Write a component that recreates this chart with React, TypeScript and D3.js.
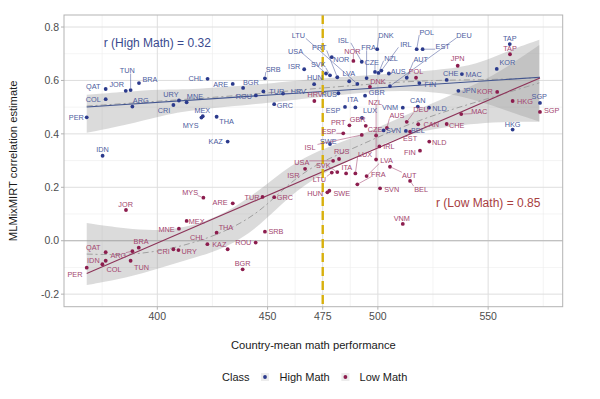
import React from "react";
import * as d3 from "d3";

// [country, country-mean math, correlation estimate]
const highMath: [string, number, number][] = [
  ["PER", 368.0, 0.462], ["QAT", 376.6, 0.568], ["COL", 376.6, 0.53], ["IDN", 375.2, 0.318],
  ["JOR", 385.7, 0.561], ["TUN", 387.9, 0.564], ["BRA", 391.7, 0.59], ["ARG", 388.7, 0.502],
  ["CRI", 407.3, 0.508], ["URY", 409.8, 0.525], ["MNE", 413.3, 0.518], ["CHL", 422.8, 0.606],
  ["ARE", 434.2, 0.587], ["BGR", 438.9, 0.572], ["ROU", 444.7, 0.544], ["MEX", 420.6, 0.466],
  ["MYS", 420.0, 0.461], ["THA", 426.9, 0.464], ["KAZ", 431.9, 0.371], ["SRB", 448.8, 0.608],
  ["GRC", 453.0, 0.511], ["TUR", 448.1, 0.559], ["HRV", 457.0, 0.551], ["RUS", 482.1, 0.552],
  ["HUN", 471.1, 0.586], ["ISR", 466.6, 0.642], ["USA", 476.5, 0.626], ["SVK", 478.3, 0.619],
  ["PRT", 481.6, 0.612], ["LVA", 487.0, 0.597], ["LTU", 490.7, 0.587], ["NOR", 479.1, 0.687],
  ["ISL", 492.7, 0.67], ["FRA", 494.9, 0.609], ["CZE", 498.7, 0.632], ["DNK", 499.7, 0.717],
  ["NZL", 500.3, 0.628], ["IRL", 501.6, 0.637], ["AUS", 505.0, 0.626], ["POL", 517.6, 0.717],
  ["EST", 520.3, 0.717], ["DEU", 505.5, 0.579], ["AUT", 513.1, 0.61], ["FIN", 518.8, 0.59],
  ["CHE", 531.2, 0.602], ["MAC", 538.1, 0.624], ["JPN", 536.5, 0.561], ["KOR", 553.9, 0.643],
  ["TAP", 559.8, 0.736], ["SGP", 573.5, 0.516], ["HKG", 561.1, 0.416], ["GBR", 494.2, 0.543],
  ["ITA", 489.8, 0.499], ["ESP", 485.1, 0.501], ["CAN", 518.1, 0.502], ["VNM", 511.3, 0.498],
  ["NLD", 523.2, 0.498], ["SVN", 502.6, 0.413], ["BEL", 512.7, 0.411], ["SWE", 478.3, 0.362],
  ["LUX", 492.8, 0.46],
];

const lowMath: [string, number, number][] = [
  ["PER", 368.0, -0.101], ["IDN", 375.1, -0.088], ["COL", 376.6, -0.075], ["QAT", 376.6, -0.043],
  ["ARG", 388.7, -0.039], ["BRA", 391.6, -0.026], ["TUN", 387.9, -0.075], ["JOR", 385.8, 0.115],
  ["CRI", 407.3, -0.032], ["URY", 409.6, -0.035], ["MNE", 409.8, 0.045], ["MEX", 413.3, 0.074],
  ["MYS", 420.9, 0.161], ["ARE", 434.2, 0.14], ["CHL", 422.7, -0.013], ["THA", 426.9, 0.03],
  ["KAZ", 431.9, -0.032], ["BGR", 438.7, -0.107], ["ROU", 444.6, -0.007], ["TUR", 447.7, 0.164],
  ["GRC", 453.0, 0.163], ["SRB", 448.8, 0.034], ["HRV", 471.2, 0.523], ["NOR", 488.9, 0.673],
  ["DNK", 496.4, 0.576], ["POL", 517.3, 0.61], ["JPN", 536.2, 0.655], ["TAP", 559.9, 0.698],
  ["KOR", 554.1, 0.557], ["HKG", 561.1, 0.523], ["SGP", 573.5, 0.482], ["MAC", 537.8, 0.474],
  ["CHE", 531.2, 0.437], ["CAN", 518.3, 0.436], ["NLD", 523.3, 0.371], ["FIN", 519.1, 0.337],
  ["EST", 514.6, 0.408], ["DEU", 513.1, 0.445], ["AUS", 504.1, 0.422], ["NZL", 499.2, 0.304],
  ["PRT", 487.1, 0.432], ["GBR", 494.5, 0.43], ["ESP", 484.3, 0.402], ["ISL", 492.7, 0.396],
  ["CZE", 499.2, 0.394], ["IRL", 500.7, 0.353], ["RUS", 482.4, 0.306], ["USA", 479.7, 0.299],
  ["ISR", 467.0, 0.269], ["LTU", 479.1, 0.255], ["SVK", 481.6, 0.257], ["ITA", 485.6, 0.252],
  ["LUX", 489.8, 0.252], ["FRA", 490.7, 0.211], ["LVA", 494.9, 0.242], ["AUT", 505.5, 0.277],
  ["BEL", 514.6, 0.224], ["SVN", 501.0, 0.196], ["HUN", 477.1, 0.181], ["SWE", 478.0, 0.187],
  ["VNM", 511.3, 0.063],
];

// repelled label nudges (pixels), same order as the data above
const highNudge: [number, number][] = [
  [-10.4, 0.2], [-12.4, -2.3], [-12.4, 0.7], [0, -6.4], [-9, -6], [-3.4, -19.3], [11, -3.3], [8.4, -6.7],
  [-9.3, 5], [-8, -6.5], [8.3, -6.3], [-11.7, 0], [-12, 0], [7.7, -6], [-12, 1.2], [-0.4, -6.3],
  [-10.8, 7.5], [10, 4.3], [-12, -0.7], [8.3, -9], [10.7, 1.4], [13.4, -0.5], [15.3, -2.5], [-9.3, 0.7],
  [0.8, -6.5], [-10, -3.3], [-30.5, -22.5], [-11.7, -10.5], [-18, -29.6], [-0.3, -8.3], [-59, -48.3], [9.5, 2.5],
  [-18.4, -21.7], [2, -30.5], [-3.3, -10], [8.7, -14.3], [12.5, -15], [24.5, -26], [9.3, -1.8], [10, -17],
  [20, -2.6], [74, -51], [14, -18.7], [11, 1.7], [4, -6.7], [11.7, 0], [10.7, 0], [10.6, -6.3],
  [0, -5.5], [-0.7, -6.3], [0, -5.7], [11.7, -3], [-2.6, -7.7], [-12, 3.5], [0, -6.7], [-12.7, 0],
  [10.5, 0.3], [10, 0.2], [12, -0.5], [-1.7, -2.5], [8, -7.5],
];

const lowNudge: [number, number][] = [
  [-11.7, 6.6], [-9, -3.6], [8.3, 8.3], [-12.4, -5], [-14, 4.3], [2.3, -6.7], [11, 6.6], [-0.3, -6],
  [-10, 2.4], [10.7, 1], [-12.3, 0.3], [10, 0], [-13.3, -5], [-12.7, -1], [-10, -7], [9.3, -5.4],
  [-8.4, -5.3], [0, -6], [-12.4, 0], [-10.5, 0.7], [10.7, 0], [11, 0], [0.7, -6.7], [-1, -10],
  [8, -5.5], [0, -6], [0, -7.4], [0, -6], [-12.3, -1], [12.3, 0.7], [11.7, -2], [18, -3.2],
  [10, 1], [13, 0.2], [10, 0.6], [-10, 2], [0, 6.6], [14.3, -12], [10, -12.5], [-1, -57.5],
  [-11.2, -3], [-8, -6.5], [-14.3, -1.5], [-51.7, 12.3], [-1, -6], [9.5, 0.2], [2.7, -7.3], [-31.3, 1.3],
  [-11.7, 7], [-12.4, 6.6], [-14, -7], [0.7, -6.3], [9.7, -19.3], [21, -10.3], [20, -15.3], [19.3, 8.3],
  [11, 8], [11.7, 0.7], [-12.3, 1], [12.4, 2.6], [-1, -6],
];

// smoother bands
const highBandX = [368.0, 386.1, 401.2, 416.3, 446.6, 464.7, 487.4, 510.0, 532.7, 546.3, 559.9, 573.2];
const highBandLo = [0.404, 0.433, 0.467, 0.49, 0.512, 0.531, 0.55, 0.565, 0.552, 0.521, 0.483, 0.446];
const highBandHi = [0.546, 0.558, 0.567, 0.566, 0.585, 0.602, 0.614, 0.628, 0.642, 0.664, 0.714, 0.752];
const highLoess = [0.504, 0.514, 0.523, 0.531, 0.55, 0.565, 0.58, 0.595, 0.602, 0.602, 0.606, 0.61];

const lowBandX = [368.0, 386.1, 401.2, 416.3, 431.5, 446.6, 460.2, 473.8, 487.4, 501.0, 514.5, 528.2, 541.8, 555.4, 573.2];
const lowBandLo = [-0.166, -0.14, -0.102, -0.065, -0.027, 0.055, 0.171, 0.246, 0.302, 0.358, 0.4, 0.422, 0.437, 0.445, 0.445];
const lowBandHi = [0.066, 0.044, 0.036, 0.055, 0.104, 0.19, 0.283, 0.34, 0.381, 0.426, 0.478, 0.527, 0.576, 0.632, 0.733];
const lowLoess = [-0.05, -0.054, -0.039, -0.009, 0.036, 0.107, 0.22, 0.295, 0.34, 0.392, 0.437, 0.478, 0.512, 0.546, 0.591];

const xTicks = [400, 450, 475, 500, 550];
const xMinor = [375, 425, 462.5, 487.5, 525, 575];
const yTicks = [0.8, 0.6, 0.4, 0.2, 0.0, -0.2];
const yMinor = [0.7, 0.5, 0.3, 0.1, -0.1];
const cutoff = 475;

const HIGH_COL = "#2b3a8c";
const HIGH_TXT = "#4d5c9e";
const HIGH_LINE = "#42558f";
const LOW_COL = "#8c1d4e";
const LOW_TXT = "#a3466f";
const LOW_LINE = "#8d3459";
const FONT = "'Liberation Sans', Arial, sans-serif";

function ols(data: [string, number, number][]) {
  const mx = d3.mean(data, (d) => d[1])!;
  const my = d3.mean(data, (d) => d[2])!;
  const sxy = d3.sum(data, (d) => (d[1] - mx) * (d[2] - my));
  const sxx = d3.sum(data, (d) => (d[1] - mx) ** 2);
  const b = sxy / sxx;
  const a = my - b * mx;
  const [lo, hi] = d3.extent(data, (d) => d[1]) as [number, number];
  return [lo, hi].map((v) => [v, a + b * v] as [number, number]);
}

export default function App() {
  const L = 64, R = 562.7, T = 15, B = 306.7;
  const x = d3.scaleLinear().domain([357.7, 583.8]).range([L, R]);
  const y = d3.scaleLinear().domain([-0.247, 0.845]).range([B, T]);

  const band = (xs: number[], lo: number[], hi: number[]) =>
    d3.area<number>().curve(d3.curveBasis)
      .x((_, i) => x(xs[i])).y0((_, i) => y(lo[i])).y1((_, i) => y(hi[i]))(xs)!;
  const curve = (xs: number[], ys: number[]) =>
    d3.line<number>().curve(d3.curveBasis).x((_, i) => x(xs[i])).y((_, i) => y(ys[i]))(xs)!;
  const straight = d3.line<[number, number]>().x((d) => x(d[0])).y((d) => y(d[1]));

  const fs = 7.3;
  const labels = (data: [string, number, number][], nudge: [number, number][], txt: string, key: string) =>
    data.map((d, i) => {
      const px = x(d[1]), py = y(d[2]);
      const lx = px + nudge[i][0], ly = py + nudge[i][1];
      const hw = d[0].length * fs * 0.34, hh = fs * 0.38;
      const cx = Math.max(lx - hw, Math.min(px, lx + hw));
      const cy = Math.max(ly - hh, Math.min(py, ly + hh));
      const dist = Math.hypot(px - cx, py - cy);
      let seg = null;
      if (dist > 6) {
        const ux = (cx - px) / dist, uy = (cy - py) / dist;
        seg = <line x1={px + ux * 2} y1={py + uy * 2} x2={cx} y2={cy} stroke={txt} strokeWidth={0.55} />;
      }
      return (
        <g key={key + d[0]}>
          {seg}
          <text x={lx} y={ly} dy="0.36em" textAnchor="middle" fontSize={fs} fill={txt} fontFamily={FONT}>{d[0]}</text>
        </g>
      );
    });

  return (
    <svg width={600} height={399} style={{ position: "absolute", left: 0, top: 0, background: "#fff" }}>
      <rect x={0} y={0} width={600} height={399} fill="#fff" />
      {xMinor.map((v) => <line key={"xm" + v} x1={x(v)} x2={x(v)} y1={T} y2={B} stroke="#ededed" strokeWidth={0.6} />)}
      {yMinor.map((v) => <line key={"ym" + v} x1={L} x2={R} y1={y(v)} y2={y(v)} stroke="#ededed" strokeWidth={0.6} />)}
      {xTicks.map((v) => <line key={"xg" + v} x1={x(v)} x2={x(v)} y1={T} y2={B} stroke="#dedede" strokeWidth={1} />)}
      {yTicks.map((v) => <line key={"yg" + v} x1={L} x2={R} y1={y(v)} y2={y(v)} stroke="#dedede" strokeWidth={1} />)}
      <line x1={L} x2={R} y1={y(0)} y2={y(0)} stroke="#b8b8b8" strokeWidth={1} />

      <path d={band(highBandX, highBandLo, highBandHi)} fill="#999" fillOpacity={0.35} />
      <path d={band(lowBandX, lowBandLo, lowBandHi)} fill="#999" fillOpacity={0.35} />
      <path d={curve(highBandX, highLoess)} fill="none" stroke="#a0a0a0" strokeWidth={1} strokeDasharray="6,3,2,3" />
      <path d={curve(lowBandX, lowLoess)} fill="none" stroke="#a0a0a0" strokeWidth={1} strokeDasharray="6,3,2,3" />

      <path d={straight(ols(highMath))!} fill="none" stroke={HIGH_LINE} strokeWidth={1.1} />
      <path d={straight(ols(lowMath))!} fill="none" stroke={LOW_LINE} strokeWidth={1.1} />

      <line x1={x(cutoff)} x2={x(cutoff)} y1={T} y2={B} stroke="#d8b00c" strokeWidth={2.4} strokeDasharray="9,5" />

      {highMath.map((d) => <circle key={"hp" + d[0]} cx={x(d[1])} cy={y(d[2])} r={1.9} fill={HIGH_COL} />)}
      {lowMath.map((d) => <circle key={"lp" + d[0]} cx={x(d[1])} cy={y(d[2])} r={1.9} fill={LOW_COL} />)}

      {labels(highMath, highNudge, HIGH_TXT, "hl")}
      {labels(lowMath, lowNudge, LOW_TXT, "ll")}

      <text x={x(400)} y={y(0.743)} dy="0.36em" textAnchor="middle" fontSize={12} fill="#3a4a8e" fontFamily={FONT}>r (High Math) = 0.32</text>
      <text x={x(550)} y={y(0.144)} dy="0.36em" textAnchor="middle" fontSize={12} fill="#a8403f" fontFamily={FONT}>r (Low Math) = 0.85</text>

      <rect x={L} y={T} width={R - L} height={B - T} fill="none" stroke="#b3b3b3" strokeWidth={1} />

      {xTicks.map((v) => (
        <g key={"xt" + v}>
          <line x1={x(v)} x2={x(v)} y1={B} y2={B + 3} stroke="#b3b3b3" />
          <text x={x(v)} y={B + 13} textAnchor="middle" fontSize={10.5} fill="#4d4d4d" fontFamily={FONT}>{v}</text>
        </g>
      ))}
      {yTicks.map((v) => (
        <g key={"yt" + v}>
          <line x1={L - 3} x2={L} y1={y(v)} y2={y(v)} stroke="#b3b3b3" />
          <text x={L - 5} y={y(v)} dy="0.35em" textAnchor="end" fontSize={10.5} fill="#4d4d4d" fontFamily={FONT}>{v.toFixed(1)}</text>
        </g>
      ))}
      <text x={(L + R) / 2} y={349} textAnchor="middle" fontSize={11.2} fill="#1a1a1a" fontFamily={FONT}>Country-mean math performance</text>
      <text transform={`translate(17,${(T + B) / 2}) rotate(-90)`} textAnchor="middle" fontSize={11.2} fill="#1a1a1a" fontFamily={FONT}>MLMixMIRT correlation estimate</text>

      <text x={222} y={381} fontSize={11} fill="#1a1a1a" fontFamily={FONT}>Class</text>
      <rect x={261} y={373} width={8} height={8} fill="#ececec" />
      <circle cx={265} cy={377} r={1.9} fill={HIGH_COL} />
      <text x={279.6} y={381} fontSize={11} fill="#1a1a1a" fontFamily={FONT}>High Math</text>
      <rect x={341.4} y={373} width={8} height={8} fill="#ececec" />
      <circle cx={345.4} cy={377} r={1.9} fill={LOW_COL} />
      <text x={359.6} y={381} fontSize={11} fill="#1a1a1a" fontFamily={FONT}>Low Math</text>
    </svg>
  );
}
